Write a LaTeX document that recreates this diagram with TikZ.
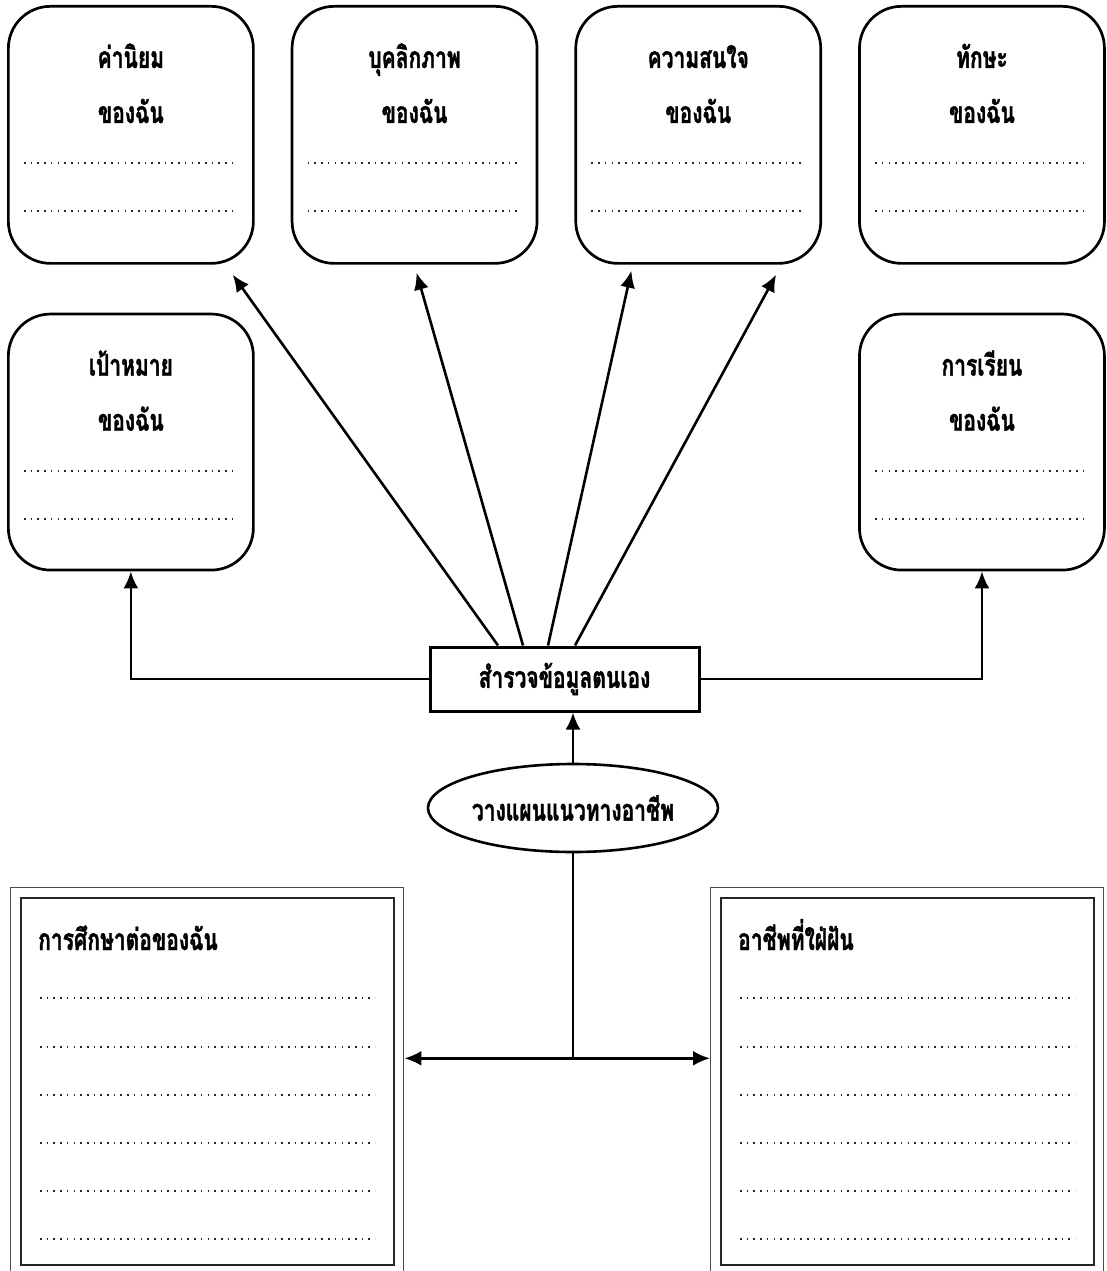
\documentclass[tikz,border=0pt]{standalone}
\usepackage{fontspec}
\newfontfamily\thaifont[Script=Thai,FakeStretch=0.7,BoldFeatures={FakeBold=1.2}]{Loma}
\usetikzlibrary{shapes,arrows.meta,positioning}

\tikzstyle{rbox} = [draw, line width=2.7pt, rounded corners=42pt, minimum width=245pt, minimum height=257pt, inner sep=0pt]
\tikzstyle{outframe} = [draw=black!70, line width=1.4pt, minimum width=393pt, minimum height=410pt, inner sep=0pt]
\tikzstyle{inframe} = [draw=black!85, line width=2pt, minimum width=373pt, minimum height=367pt, inner sep=0pt]
\tikzstyle{hd} = [font=\thaifont\bfseries\fontsize{30}{34}\selectfont, inner sep=0pt, anchor=base]
\tikzstyle{dots} = [line width=1.6pt, dash pattern=on 1.6pt off 5.1pt, black!85]
\tikzstyle{tedge} = [draw, line width=2.6pt, -{Latex[length=17pt,width=15pt]}]
\tikzstyle{tedge2} = [draw, line width=2.6pt, {Latex[length=17pt,width=15pt]}-{Latex[length=17pt,width=15pt]}]

\begin{document}
\begin{tikzpicture}[x=1pt, y=-1pt]
\useasboundingbox (0,0) rectangle (1107,1271);
\clip (0,0) rectangle (1107,1271);

% boxes ==================================

% top row
\node[rbox, anchor=north west] (values) at (7,5) {};
\node[rbox, right=36pt of values] (person) {};
\node[rbox, right=36pt of person] (interest) {};
\node[rbox, right=36pt of interest] (skill) {};

% second row
\node[rbox, below=48pt of values, minimum height=256pt] (goal) {};
\node[rbox, below=48pt of skill, minimum height=256pt] (learn) {};

% titles
\node[hd] (values-a) at ([yshift=-63pt]values.north) {ค่านิยม};
\node[hd] (values-b) at ([yshift=-118pt]values.north) {ของฉัน};
\node[hd] (person-a) at ([yshift=-63pt]person.north) {บุคลิกภาพ};
\node[hd] (person-b) at ([yshift=-118pt]person.north) {ของฉัน};
\node[hd] (interest-a) at ([yshift=-63pt]interest.north) {ความสนใจ};
\node[hd] (interest-b) at ([yshift=-118pt]interest.north) {ของฉัน};
\node[hd] (skill-a) at ([yshift=-63pt]skill.north) {ทักษะ};
\node[hd] (skill-b) at ([yshift=-118pt]skill.north) {ของฉัน};
\node[hd] (goal-a) at ([yshift=-63pt]goal.north) {เป้าหมาย};
\node[hd] (goal-b) at ([yshift=-118pt]goal.north) {ของฉัน};
\node[hd] (learn-a) at ([yshift=-63pt]learn.north) {การเรียน};
\node[hd] (learn-b) at ([yshift=-118pt]learn.north) {ของฉัน};

% blank lines
\draw[dots] ([xshift=17pt,yshift=-158pt]values.north west) -- ++(211,0);
\draw[dots] ([xshift=17pt,yshift=-206pt]values.north west) -- ++(211,0);
\draw[dots] ([xshift=17pt,yshift=-158pt]person.north west) -- ++(211,0);
\draw[dots] ([xshift=17pt,yshift=-206pt]person.north west) -- ++(211,0);
\draw[dots] ([xshift=17pt,yshift=-158pt]interest.north west) -- ++(211,0);
\draw[dots] ([xshift=17pt,yshift=-206pt]interest.north west) -- ++(211,0);
\draw[dots] ([xshift=17pt,yshift=-158pt]skill.north west) -- ++(211,0);
\draw[dots] ([xshift=17pt,yshift=-206pt]skill.north west) -- ++(211,0);
\draw[dots] ([xshift=17pt,yshift=-158pt]goal.north west) -- ++(211,0);
\draw[dots] ([xshift=17pt,yshift=-206pt]goal.north west) -- ++(211,0);
\draw[dots] ([xshift=17pt,yshift=-158pt]learn.north west) -- ++(211,0);
\draw[dots] ([xshift=17pt,yshift=-206pt]learn.north west) -- ++(211,0);

% middle
\node[draw, line width=3pt, minimum width=269pt, minimum height=64pt, font=\thaifont\bfseries\fontsize{30}{34}\selectfont] (survey) at (564.5,679) {สำรวจข้อมูลตนเอง};
\node[ellipse, draw, line width=2.6pt, minimum width=290pt, minimum height=88pt, inner sep=0pt, font=\thaifont\bfseries\fontsize{30}{34}\selectfont] (plan) at (573,808) {วางแผนแนวทางอาชีพ};

% bottom frames
\node[outframe, anchor=north west] (studyframe) at (10,887) {};
\node[inframe, anchor=north west] (study) at (20,897) {};
\node[outframe, anchor=north west] (dreamframe) at (710,887) {};
\node[inframe, anchor=north west] (dream) at (720,897) {};

\node[hd, anchor=base west] (study-a) at ([xshift=18pt,yshift=-53pt]study.north west) {การศึกษาต่อของฉัน};
\node[hd, anchor=base west] (dream-a) at ([xshift=18pt,yshift=-53pt]dream.north west) {อาชีพที่ใฝ่ฝัน};

\draw[dots] ([xshift=20pt,yshift=-101pt]study.north west) -- ++(335,0);
\draw[dots] ([xshift=20pt,yshift=-150pt]study.north west) -- ++(335,0);
\draw[dots] ([xshift=20pt,yshift=-198pt]study.north west) -- ++(335,0);
\draw[dots] ([xshift=20pt,yshift=-246pt]study.north west) -- ++(335,0);
\draw[dots] ([xshift=20pt,yshift=-294pt]study.north west) -- ++(335,0);
\draw[dots] ([xshift=20pt,yshift=-342pt]study.north west) -- ++(335,0);
\draw[dots] ([xshift=20pt,yshift=-101pt]dream.north west) -- ++(335,0);
\draw[dots] ([xshift=20pt,yshift=-150pt]dream.north west) -- ++(335,0);
\draw[dots] ([xshift=20pt,yshift=-198pt]dream.north west) -- ++(335,0);
\draw[dots] ([xshift=20pt,yshift=-246pt]dream.north west) -- ++(335,0);
\draw[dots] ([xshift=20pt,yshift=-294pt]dream.north west) -- ++(335,0);
\draw[dots] ([xshift=20pt,yshift=-342pt]dream.north west) -- ++(335,0);

% edges ==================================
\coordinate (tip1) at ([xshift=-22pt,yshift=-10pt]values.south east);
\coordinate (tip2) at ([xshift=2pt,yshift=-8pt]person.south);
\coordinate (tip3) at ([xshift=57pt,yshift=-6pt]interest.south west);
\coordinate (tip4) at ([xshift=-46pt,yshift=-10pt]interest.south east);

\path[tedge] ([xshift=-66.5pt]survey.north) -- (tip1);
\path[tedge] ([xshift=-41.5pt]survey.north) -- (tip2);
\path[tedge] ([xshift=-16.5pt]survey.north) -- (tip3);
\path[tedge] ([xshift=10.5pt]survey.north) -- (tip4);

\path[tedge] (survey.west) -| (goal.south);
\path[tedge] (survey.east) -| (learn.south);
\path[tedge] (plan.north) -- (plan.north |- survey.south);

\path (plan.south) ++(0,205) coordinate (split);
\draw[line width=2.6pt] (plan.south) -- (split);
\path[tedge2] (split -| studyframe.east) -- (split -| dreamframe.west);

\end{tikzpicture}
\end{document}
